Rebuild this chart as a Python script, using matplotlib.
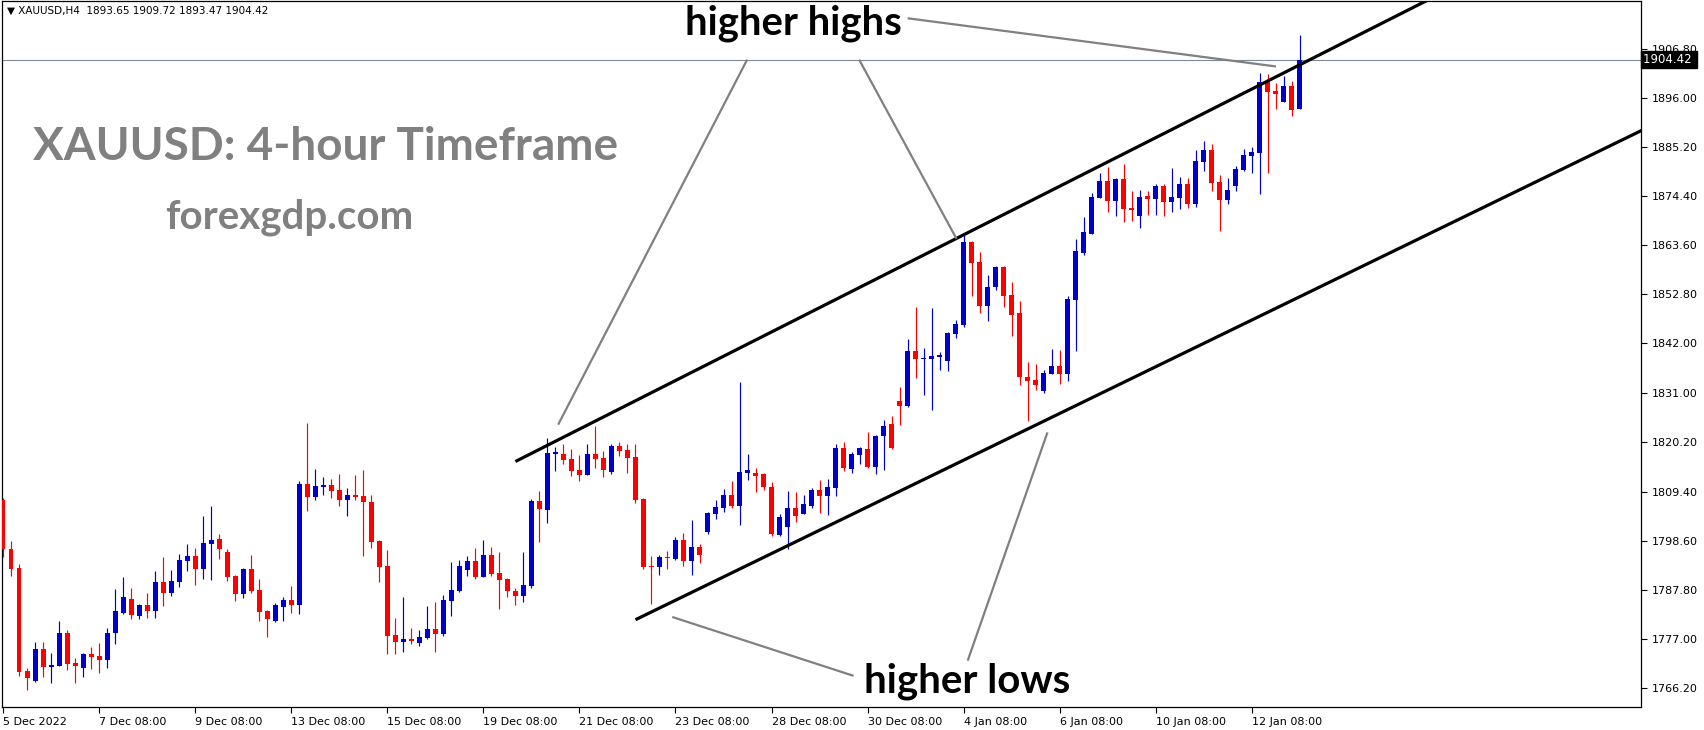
import matplotlib
matplotlib.use("Agg")
import matplotlib.pyplot as plt
import matplotlib.transforms as mtransforms
import numpy as np

# XAUUSD H4 candles, 5 Dec 2022 08:00 .. 13 Jan 2023 08:00
opens = [1807.6, 1796.8, 1792.6, 1770.0, 1767.8, 1774.8, 1770.8, 1771.1, 1778.3, 1771.7,
         1770.6, 1773.7, 1773.3, 1772.4, 1778.3, 1782.7, 1785.8, 1782.1, 1784.5, 1783.2,
         1789.5, 1787.1, 1789.5, 1794.2, 1795.3, 1792.4, 1797.9, 1799.0, 1796.1, 1790.9,
         1786.9, 1792.4, 1787.8, 1783.2, 1781.0, 1784.0, 1785.6, 1784.5, 1811.1, 1808.2,
         1810.4, 1810.9, 1809.8, 1807.6, 1808.7, 1808.5, 1807.1, 1798.6, 1793.1, 1777.9,
         1776.3, 1777.0, 1776.1, 1777.2, 1779.2, 1778.1, 1785.4, 1787.6, 1792.2, 1794.2,
         1790.6, 1795.5, 1791.5, 1790.2, 1787.6, 1786.5, 1788.7, 1807.4, 1805.4, 1817.7,
         1817.7, 1816.6, 1814.2, 1813.1, 1817.7, 1816.8, 1813.7, 1819.5, 1818.6, 1817.0,
         1807.8, 1793.05, 1792.7, 1795.0, 1794.6, 1798.8, 1794.2, 1797.2, 1800.5, 1804.5,
         1805.8, 1808.7, 1806.3, 1813.5, 1813.5, 1813.3, 1810.4, 1799.9, 1801.6, 1805.8,
         1804.5, 1806.3, 1809.8, 1808.5, 1810.2, 1819.0, 1814.4, 1817.5, 1818.8, 1814.8,
         1821.7, 1824.3, 1829.4, 1828.3, 1840.3, 1838.6, 1838.6, 1839.0, 1838.1, 1844.1,
         1846.1, 1864.3, 1859.9, 1850.2, 1854.4, 1858.8, 1852.7, 1848.7, 1834.6, 1834.0,
         1831.5, 1835.3, 1837.0, 1835.3, 1851.6, 1861.9, 1866.1, 1874.0, 1877.7, 1873.3,
         1878.2, 1871.8, 1870.0, 1874.4, 1873.8, 1876.6, 1873.1, 1874.0, 1877.1, 1872.7,
         1881.9, 1884.6, 1877.5, 1873.6, 1876.6, 1880.2, 1883.2, 1883.9, 1899.5, 1897.5,
         1895.1, 1898.6, 1893.65]
highs = [1807.9, 1798.6, 1793.5, 1770.6, 1776.3, 1776.3, 1773.9, 1781.0, 1779.0, 1772.8,
         1773.9, 1775.2, 1776.1, 1779.4, 1788.0, 1790.6, 1788.2, 1784.7, 1787.1, 1791.9,
         1795.0, 1792.2, 1795.7, 1797.9, 1797.0, 1804.0, 1806.3, 1800.1, 1796.8, 1791.1,
         1792.6, 1795.5, 1790.2, 1783.4, 1784.9, 1786.2, 1788.7, 1811.7, 1824.5, 1814.4,
         1812.6, 1812.2, 1813.3, 1810.2, 1813.1, 1814.2, 1808.7, 1798.8, 1796.6, 1781.6,
         1786.2, 1779.4, 1779.0, 1784.3, 1785.1, 1786.7, 1793.9, 1794.4, 1795.3, 1797.0,
         1798.8, 1797.2, 1796.1, 1790.4, 1788.2, 1796.1, 1807.8, 1809.6, 1821.2, 1819.2,
         1819.9, 1818.8, 1817.5, 1819.9, 1823.9, 1818.3, 1819.9, 1820.3, 1819.9, 1819.9,
         1808.0, 1795.3, 1795.5, 1796.4, 1799.4, 1800.3, 1803.2, 1797.9, 1804.9, 1807.6,
         1810.0, 1811.8, 1833.5, 1817.7, 1814.6, 1813.4, 1811.5, 1804.5, 1809.6, 1809.3,
         1808.7, 1810.2, 1812.0, 1812.2, 1819.9, 1820.3, 1818.1, 1819.2, 1822.5, 1821.9,
         1825.2, 1826.0, 1832.4, 1843.0, 1850.0, 1841.0, 1849.8, 1840.1, 1844.5, 1847.2,
         1866.0, 1864.6, 1862.0, 1857.1, 1859.0, 1859.0, 1855.5, 1851.3, 1837.9, 1837.5,
         1836.2, 1840.8, 1840.6, 1852.4, 1865.0, 1869.8, 1875.1, 1879.5, 1880.8, 1878.3,
         1881.5, 1875.5, 1875.8, 1875.5, 1877.1, 1877.1, 1880.6, 1878.6, 1878.4, 1884.6,
         1886.6, 1885.9, 1879.1, 1878.4, 1881.0, 1884.8, 1885.2, 1901.5, 1901.3, 1899.3,
         1900.8, 1899.7, 1909.72]
lows = [1795.1, 1790.9, 1768.9, 1765.8, 1767.6, 1768.6, 1767.3, 1771.0, 1770.2, 1767.3,
        1768.6, 1770.4, 1769.5, 1770.6, 1775.9, 1782.5, 1781.4, 1781.4, 1781.6, 1781.6,
        1784.3, 1786.5, 1788.4, 1792.0, 1788.9, 1790.2, 1790.0, 1794.6, 1789.8, 1785.4,
        1786.0, 1787.1, 1781.0, 1777.4, 1780.7, 1781.0, 1782.7, 1782.5, 1805.2, 1807.6,
        1808.7, 1808.0, 1806.3, 1804.1, 1807.6, 1795.3, 1797.0, 1789.5, 1773.7, 1773.7,
        1774.2, 1775.9, 1775.5, 1777.0, 1774.2, 1777.7, 1782.1, 1787.3, 1790.9, 1790.2,
        1790.5, 1790.9, 1783.6, 1786.2, 1784.5, 1785.1, 1788.2, 1798.3, 1802.5, 1813.9,
        1815.5, 1812.9, 1811.8, 1813.0, 1814.6, 1812.6, 1813.3, 1817.3, 1813.5, 1806.9,
        1792.4, 1784.7, 1791.1, 1792.4, 1794.4, 1793.0, 1791.1, 1793.6, 1800.1, 1803.4,
        1804.9, 1805.8, 1802.1, 1812.0, 1809.3, 1809.8, 1799.7, 1799.7, 1796.8, 1802.7,
        1804.4, 1805.8, 1804.7, 1804.3, 1808.5, 1814.0, 1813.5, 1815.5, 1814.6, 1813.3,
        1814.2, 1818.8, 1824.1, 1828.0, 1834.4, 1830.7, 1827.4, 1836.2, 1835.9, 1843.2,
        1845.6, 1852.4, 1848.7, 1846.9, 1853.8, 1850.0, 1843.6, 1832.9, 1824.9, 1831.8,
        1831.1, 1835.2, 1833.1, 1833.7, 1840.4, 1861.5, 1866.0, 1873.9, 1870.9, 1870.0,
        1868.7, 1868.9, 1867.4, 1870.3, 1870.3, 1870.0, 1870.9, 1871.6, 1871.8, 1872.0,
        1879.9, 1875.5, 1866.8, 1872.7, 1875.5, 1879.9, 1879.5, 1874.9, 1879.5, 1893.6,
        1895.0, 1892.0, 1893.47]
closes = [1796.8, 1792.4, 1769.8, 1768.4, 1774.8, 1770.8, 1771.3, 1778.3, 1771.5, 1771.1,
          1773.7, 1773.0, 1772.4, 1778.3, 1783.2, 1786.2, 1782.3, 1784.5, 1783.2, 1789.5,
          1787.1, 1789.8, 1794.4, 1795.3, 1792.4, 1798.1, 1798.8, 1796.8, 1790.6, 1786.9,
          1792.4, 1787.6, 1782.9, 1781.4, 1784.5, 1785.6, 1784.5, 1811.1, 1808.2, 1810.7,
          1810.9, 1809.6, 1807.6, 1808.7, 1808.2, 1807.1, 1798.3, 1792.8, 1777.7, 1776.3,
          1777.0, 1776.6, 1777.4, 1779.2, 1778.1, 1785.6, 1787.8, 1793.1, 1794.2, 1790.6,
          1795.5, 1791.3, 1790.0, 1787.6, 1786.5, 1788.9, 1807.4, 1805.6, 1817.9, 1818.1,
          1816.4, 1813.9, 1813.1, 1817.7, 1816.6, 1814.2, 1819.5, 1818.4, 1816.8, 1807.6,
          1792.9, 1792.7, 1795.0, 1794.7, 1798.8, 1794.2, 1797.2, 1795.5, 1804.7, 1806.0,
          1808.7, 1806.3, 1813.7, 1814.2, 1812.9, 1810.4, 1800.1, 1803.8, 1805.8, 1804.1,
          1806.7, 1809.8, 1808.5, 1810.4, 1819.0, 1814.6, 1817.7, 1819.0, 1814.8, 1821.7,
          1823.9, 1819.0, 1828.3, 1840.3, 1838.6, 1838.8, 1839.2, 1839.5, 1844.3, 1846.3,
          1864.3, 1859.7, 1850.2, 1854.4, 1858.8, 1852.4, 1848.3, 1834.6, 1833.7, 1832.9,
          1835.5, 1837.0, 1835.3, 1851.8, 1862.4, 1866.5, 1874.2, 1877.7, 1873.3, 1878.2,
          1871.6, 1871.4, 1874.2, 1873.8, 1876.6, 1873.1, 1874.2, 1877.1, 1872.7, 1882.1,
          1884.6, 1877.3, 1873.6, 1875.8, 1880.4, 1883.5, 1884.1, 1899.5, 1897.3, 1896.9,
          1898.6, 1893.4, 1904.42]

time_labels = ["5 Dec 2022", "7 Dec 08:00", "9 Dec 08:00", "13 Dec 08:00", "15 Dec 08:00",
               "19 Dec 08:00", "21 Dec 08:00", "23 Dec 08:00", "28 Dec 08:00", "30 Dec 08:00",
               "4 Jan 08:00", "6 Jan 08:00", "10 Jan 08:00", "12 Jan 08:00"]
price_ticks = [1906.80, 1896.00, 1885.20, 1874.40, 1863.60, 1852.80, 1842.00,
               1831.00, 1820.20, 1809.40, 1798.60, 1787.80, 1777.00, 1766.20]
last_price = 1904.42
header = "\u25bc XAUUSD,H4  1893.65 1909.72 1893.47 1904.42"

# channel lines and callout lines, as (bar index, price) pairs
upper_channel = [(64.0, 1816.0), (164.6, 1905.6)]
lower_channel = [(79.0, 1781.2), (164.6, 1854.5)]
callouts = [
    [(92.95, 1904.4), (69.34, 1824.1)],
    [(106.94, 1904.4), (119.1, 1865.0)],
    [(113.0, 1913.5), (159.0, 1902.9)],
    [(83.6, 1781.8), (106.25, 1768.85)],
    [(120.5, 1772.2), (130.46, 1822.4)],
]

W, H = 1704, 730
fig = plt.figure(figsize=(W / 100, H / 100), dpi=100)
ax = fig.add_axes([2 / W, 1 - 707 / H, (1641 - 2) / W, (707 - 1) / H])

o = np.array(opens); h = np.array(highs); l = np.array(lows); c = np.array(closes)
x = np.arange(len(o))
up = c >= o
cols = np.where(up, "#0000CC", "#FF0000")

ax.vlines(x, l, h, colors=cols, linewidth=0.85, zorder=2)
body_lo = np.minimum(o, c)
body_h = np.maximum(np.abs(c - o), 0.25)
ax.bar(x, body_h, bottom=body_lo, width=0.62, color=cols, linewidth=0, zorder=3)

ax.axhline(last_price, color="#7a8a99", linewidth=0.8, zorder=1)


def ray(p):
    (x1, y1), (x2, y2) = p
    k = (y2 - y1) / (x2 - x1)
    xe = 230
    return [x1, xe], [y1, y1 + k * (xe - x1)]


for seg in (upper_channel, lower_channel):
    xs, ys = ray(seg)
    ax.plot(xs, ys, color="black", linewidth=2.3, solid_capstyle="butt", zorder=4)

for seg in callouts:
    ax.plot([seg[0][0], seg[1][0]], [seg[0][1], seg[1][1]], color="#808080",
            linewidth=1.6, solid_capstyle="butt", zorder=4)

ax.set_xlim(-0.125, 204.6)
ax.set_ylim(1762.0, 1917.3)

ax.yaxis.tick_right()
ax.set_yticks(price_ticks)
ax.set_yticklabels(["%.2f" % v for v in price_ticks])
ax.set_xticks(np.arange(len(time_labels)) * 12)
ax.set_xticklabels(time_labels, ha="left")
ax.tick_params(axis="both", direction="out", length=4, width=0.8, labelsize=8,
               colors="black", pad=3)
ax.tick_params(axis="y", pad=4)
for s in ax.spines.values():
    s.set_linewidth(0.9)
    s.set_color("black")

trans = mtransforms.blended_transform_factory(ax.transAxes, ax.transData)
ax.text(1.001, last_price, "1904.42 ", transform=trans, ha="left", va="center",
        fontsize=8.5, color="white", zorder=10, clip_on=False,
        bbox=dict(facecolor="black", edgecolor="black", pad=1.2))

ax.text(0.003, 0.993, header, transform=ax.transAxes, ha="left", va="top",
        fontsize=7.5, color="black")


def px(xp, yp):
    return xp / W, 1 - yp / H


fig.text(*px(33, 160), "XAUUSD: 4-hour Timeframe", fontsize=33, fontweight="bold",
         family="Lato", color="#808080", ha="left", va="baseline")
fig.text(*px(165, 228), "forexgdp.com", fontsize=29, fontweight="bold",
         family="Lato", color="#808080", ha="left", va="baseline")
fig.text(*px(685, 35), "higher highs", fontsize=28.8, fontweight="bold",
         family="Lato", color="black", ha="left", va="baseline")
fig.text(*px(864, 693), "higher lows", fontsize=29, fontweight="bold",
         family="Lato", color="black", ha="left", va="baseline")

fig.savefig("out.png", dpi=100, facecolor="white")
